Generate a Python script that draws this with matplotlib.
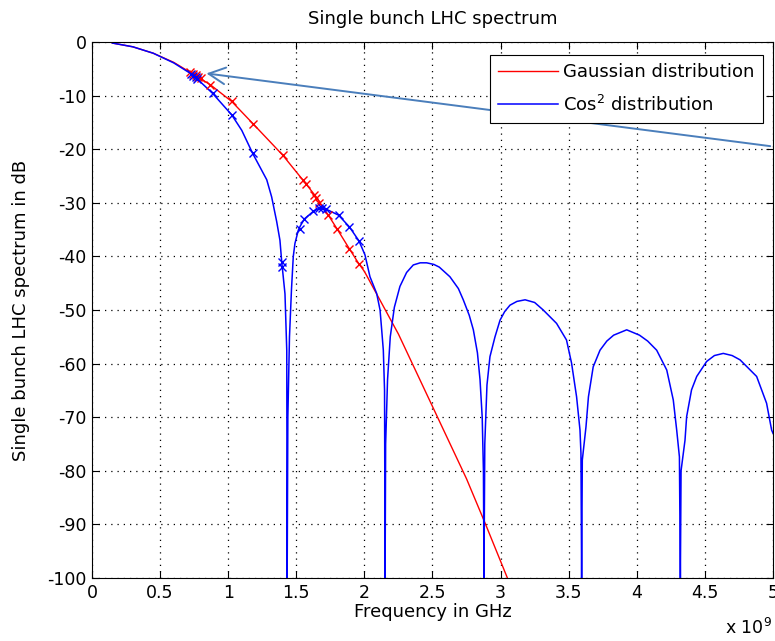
import numpy as np
import matplotlib
matplotlib.use("Agg")
import matplotlib.pyplot as plt
from matplotlib.ticker import FuncFormatter

plt.rcParams['font.family'] = ['DejaVu Sans']
plt.rcParams['axes.unicode_minus'] = False

# frequencies in GHz, levels in dB
gauss_f = [0.15, 0.3, 0.45, 0.6, 0.73, 0.87, 1.026, 1.184, 1.40, 1.55, 1.64,
           1.735, 1.80, 1.89, 1.96, 2.0, 2.25, 2.5, 2.75, 2.89, 3.05]
gauss_db = [-0.2, -0.9, -2.1, -3.8, -5.8, -8.0, -11.1, -15.3, -21.1, -25.8, -28.7,
            -32.3, -34.9, -38.6, -41.4, -42.8, -54.5, -68.0, -81.5, -90.0, -100.0]

cos2_f = [0.15, 0.3, 0.45, 0.6, 0.744, 0.886, 1.026, 1.1, 1.18, 1.283, 1.319,
          1.356, 1.38, 1.393, 1.417, 1.43, 1.433,
          1.438, 1.45, 1.465, 1.478, 1.49, 1.515, 1.53, 1.56, 1.625, 1.67, 1.72,
          1.81, 1.89, 1.96, 2.004, 2.041, 2.09, 2.115, 2.127, 2.139, 2.148, 2.152,
          2.156, 2.17, 2.19, 2.22, 2.261, 2.31, 2.359, 2.41, 2.457, 2.51, 2.55,
          2.628, 2.69, 2.726, 2.77, 2.80, 2.83, 2.849, 2.865, 2.874, 2.878,
          2.884, 2.9, 2.922, 2.959, 2.996, 3.03, 3.069, 3.12, 3.18, 3.25, 3.313,
          3.411, 3.484, 3.521, 3.558, 3.583, 3.59, 3.595,
          3.60, 3.627, 3.645, 3.68, 3.73, 3.78, 3.83, 3.926, 4.02, 4.08, 4.146,
          4.22, 4.268, 4.293, 4.313, 4.32,
          4.325, 4.354, 4.366, 4.402, 4.44, 4.513, 4.57, 4.635, 4.70, 4.758,
          4.88, 4.953, 4.99, 5.0]
cos2_db = [-0.2, -0.9, -2.1, -3.9, -6.2, -9.6, -13.6, -16.5, -20.8, -25.7, -28.9,
           -33.5, -37.0, -41.0, -47.0, -57.5, -100.0,
           -70.0, -55.0, -46.0, -40.0, -37.6, -35.1, -34.3, -33.0, -31.6, -31.0, -31.2,
           -32.3, -34.5, -37.1, -39.7, -43.8, -46.9, -50.0, -53.7, -57.5, -65.0, -100.0,
           -75.0, -63.0, -55.0, -49.5, -45.6, -43.0, -41.6, -41.2, -41.2, -41.5, -42.0,
           -43.8, -46.0, -48.1, -51.0, -53.7, -58.0, -63.0, -70.0, -80.0, -100.0,
           -75.0, -64.0, -58.7, -55.0, -51.9, -50.3, -49.1, -48.4, -48.1, -48.6, -50.0,
           -52.5, -55.6, -59.9, -66.2, -72.4, -76.7, -100.0,
           -78.0, -71.8, -66.2, -60.6, -57.5, -55.8, -54.7, -53.7, -54.7, -55.8, -57.5,
           -61.2, -66.8, -72.4, -77.4, -100.0,
           -80.0, -74.3, -69.9, -64.9, -62.4, -59.6, -58.5, -58.1, -58.5, -59.3,
           -62.4, -67.4, -72.4, -73.0]

# measured points (x markers)
gauss_mark_f = [0.72, 0.74, 0.76, 0.78, 0.80, 0.87, 1.026, 1.184, 1.40, 1.55,
                1.57, 1.63, 1.645, 1.67, 1.735, 1.80, 1.89, 1.96]
gauss_mark_db = [-5.6, -5.9, -6.2, -6.5, -6.8, -8.0, -11.1, -15.3, -21.1, -25.8,
                 -26.5, -28.5, -29.2, -30.1, -32.3, -34.9, -38.6, -41.4]
cos2_mark_f = [0.73, 0.745, 0.76, 0.77, 0.886, 1.026, 1.18, 1.393, 1.396, 1.53,
               1.56, 1.625, 1.67, 1.69, 1.72, 1.81, 1.89, 1.96]
cos2_mark_db = [-6.0, -6.3, -6.6, -6.9, -9.6, -13.6, -20.8, -41.0, -42.0, -34.9,
                -33.0, -31.6, -31.0, -31.0, -31.2, -32.3, -34.5, -37.1]

xticks = [0, 0.5, 1, 1.5, 2, 2.5, 3, 3.5, 4, 4.5, 5]
yticks = [0, -10, -20, -30, -40, -50, -60, -70, -80, -90, -100]

fig = plt.figure(figsize=(7.75, 6.41), dpi=100)
ax = fig.add_axes([0.1187, 0.0983, 0.8787, 0.8362])

g = np.array(gauss_f) * 1e9
c = np.array(cos2_f) * 1e9
ax.plot(g, gauss_db, color='red', lw=1.0, label='Gaussian distribution')
ax.plot(c, cos2_db, color='blue', lw=1.1, label='Cos$^2$ distribution')
ax.plot(np.array(gauss_mark_f) * 1e9, gauss_mark_db, 'x', color='red', ms=6, mew=1.0)
ax.plot(np.array(cos2_mark_f) * 1e9, cos2_mark_db, 'x', color='blue', ms=6, mew=1.0)

ax.set_xlim(0, 5e9)
ax.set_ylim(-100, 0)
ax.set_xticks(np.array(xticks) * 1e9)
ax.set_yticks(yticks)
ax.xaxis.set_major_formatter(FuncFormatter(lambda v, p: '%g' % (v / 1e9)))
ax.tick_params(direction='in', top=True, right=True, labelsize=12.5, length=5,
               width=0.8, pad=4)
ax.grid(True, color='black', linestyle=(0, (1, 4)), linewidth=0.9)
for s in ax.spines.values():
    s.set_linewidth(0.8)

ax.set_title('Single bunch LHC spectrum', fontsize=13, pad=13)
ax.set_xlabel('Frequency in GHz', fontsize=13, labelpad=1)
ax.set_ylabel('Single bunch LHC spectrum in dB', fontsize=13, labelpad=12)
fig.text(0.935, 0.005, 'x 10$^9$', fontsize=12.5, ha='left', va='bottom')

leg = ax.legend(loc='upper right', bbox_to_anchor=(0.985, 0.976), fontsize=13,
                frameon=True, fancybox=False, edgecolor='black', framealpha=1,
                handlelength=3.3, handletextpad=0.3, borderpad=0.45,
                labelspacing=0.75, borderaxespad=0)
leg.get_frame().set_linewidth(0.8)

ax.annotate('', xy=(0.82e9, -5.8), xytext=(5.0e9, -19.5),
            arrowprops=dict(arrowstyle='->', color='#4a7ebb', lw=1.4,
                            mutation_scale=30), annotation_clip=False)

fig.savefig('out.png', dpi=100)
